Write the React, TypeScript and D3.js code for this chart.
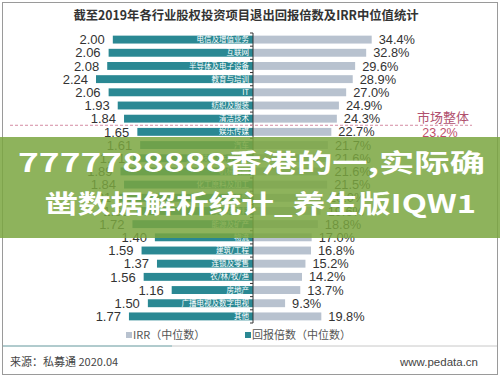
import React from "react";
import * as d3 from "d3";

const categories = [
  "电信及增值业务", "互联网", "半导体及电子设备", "教育与培训", "IT", "纺织及服装",
  "清洁技术", "娱乐传媒", "汽车", "生物技术/医疗健康", "机械制造", "化工原料及加工",
  "金融", "食品&饮料", "能源及矿产", "物流", "建筑/工程", "连锁及零售",
  "农/林/牧/渔", "房地产", "广播电视及数字电视", "其他",
];
const multiples = [2.0, 2.06, 2.08, 2.24, 2.06, 1.93, 1.84, 1.65, 1.61, 1.71, 1.89, 1.84, 1.91, 1.66, 1.72, 1.4, 1.59, 1.37, 1.56, 1.16, 1.5, 1.77];
const irr = [34.4, 32.8, 29.6, 28.9, 27.0, 24.9, 24.3, 22.7, 21.7, 21.6, 21.6, 21.5, 20.0, 19.6, 18.8, 17.0, 16.8, 15.2, 14.2, 13.7, 9.3, 19.8];
const marketIRR = 23.2;
const title = "截至2019年各行业股权投资项目退出回报倍数及IRR中位值统计";
const legendLabels = ["IRR（中位数）", "回报倍数（中位数）"];
const source = "来源：私募通 2020.04";
const site = "www.pedata.cn";
const overlayLines = ["7777788888香港的一,实际确", "凿数据解析统计_养生版IQW1"];

const W = 500, H = 377;
const AXIS_X = 253;
const TEAL = "#2a8893";
const GRAY = "#b8c2cf";
const NUM_FONT = "'Liberation Sans', Arial, sans-serif";
const CJK_FONT = "'Noto Sans CJK SC', 'Noto Sans', sans-serif";

export default function App() {
  const y = d3.scaleBand<string>().domain(categories).range([33, 323]).paddingInner(0.4).paddingOuter(0.2);
  const xL = d3.scaleLinear().domain([0, 2.24]).range([AXIS_X, 96]);
  const xR = d3.scaleLinear().domain([0, 34.4]).range([AXIS_X, 371.7]);
  const bw = y.bandwidth();
  const step = y.step();
  const marketIdx = irr.findIndex((v) => v < marketIRR);
  const dashY = (y(categories[marketIdx]) as number) - (step - bw) / 2;

  return (
    <div style={{ position: "fixed", left: 0, top: 0 }}>
      <svg width={W} height={H} style={{ display: "block", background: "#fff" }}>
        <rect x={2.5} y={2.5} width={495} height={372} fill="none" stroke="#9a9a9a" strokeWidth={1} />
        <text x={246} y={19.5} textAnchor="middle" fontFamily={CJK_FONT} fontWeight={700} fontSize={12.3} fill="#333">
          {title}
        </text>

        {categories.map((c, i) => {
          const yc = (y(c) as number) + bw / 2;
          return (
            <g key={c}>
              <rect x={xL(multiples[i])} y={y(c)} width={AXIS_X - xL(multiples[i])} height={bw} fill={TEAL} />
              <rect x={AXIS_X} y={y(c)} width={xR(irr[i]) - AXIS_X} height={bw} fill={GRAY} />
              <text x={xL(multiples[i]) - 8} y={yc} dy="0.36em" textAnchor="end" fontFamily={NUM_FONT} fontSize={13} fill="#333">
                {multiples[i].toFixed(2)}
              </text>
              <text x={xR(irr[i]) + 7} y={yc} dy="0.36em" textAnchor="start" fontFamily={NUM_FONT} fontSize={12.8} fill="#333">
                {irr[i].toFixed(1) + "%"}
              </text>
              <text x={249} y={yc} dy="0.35em" textAnchor="end" fontFamily={CJK_FONT} fontSize={7.5} fill="#fff">
                {c}
              </text>
            </g>
          );
        })}

        {/* axis */}
        <line x1={AXIS_X} x2={AXIS_X} y1={33} y2={323} stroke="#333" strokeWidth={1} />
        {d3.range(categories.length + 1).map((i) => {
          const ty = 33 + i * step;
          return <line key={i} x1={AXIS_X - 3} x2={AXIS_X} y1={ty} y2={ty} stroke="#333" strokeWidth={1} />;
        })}

        {/* market line */}
        <line x1={10} x2={472} y1={dashY} y2={dashY} stroke="#d58ca3" strokeWidth={1} strokeDasharray="3,2" />
        <text x={443} y={dashY - 3} textAnchor="middle" fontFamily={CJK_FONT} fontSize={13} fill="#b0506e">
          市场整体
        </text>
        <text x={440} y={dashY + 12} textAnchor="middle" fontFamily={NUM_FONT} fontSize={12.5} fill="#c0506a">
          {marketIRR.toFixed(1) + "%"}
        </text>

        {/* legend */}
        <rect x={126} y={332} width={6} height={6} fill={GRAY} />
        <text x={133} y={339} fontFamily={CJK_FONT} fontSize={11} fill="#555">{legendLabels[0]}</text>
        <rect x={245} y={332} width={6} height={6} fill={TEAL} />
        <text x={252} y={339} fontFamily={CJK_FONT} fontSize={11} fill="#555">{legendLabels[1]}</text>

        {/* footer */}
        <line x1={3} x2={497} y1={346} y2={346} stroke="#c8c8c8" strokeWidth={1} />
        <line x1={3} x2={172} y1={346} y2={346} stroke="#7fb3b8" strokeWidth={1} />
        <text x={10} y={366} fontFamily={CJK_FONT} fontSize={11} fill="#444">{source}</text>
        <text x={478} y={366} textAnchor="end" fontFamily={NUM_FONT} fontSize={11.5} fill="#444">{site}</text>

        {/* overlay banner */}
        <rect x={0} y={137} width={W} height={101} fill="#7aa640" opacity={0.85} />
        <text x={18} y={172} textLength={467} lengthAdjust="spacingAndGlyphs" fontFamily={CJK_FONT} fontWeight={700} fontSize={25} fill="#fff">
          {overlayLines[0]}
        </text>
        <text x={45} y={213} textLength={431} lengthAdjust="spacingAndGlyphs" fontFamily={CJK_FONT} fontWeight={700} fontSize={25} fill="#fff">
          {overlayLines[1]}
        </text>
      </svg>
    </div>
  );
}
